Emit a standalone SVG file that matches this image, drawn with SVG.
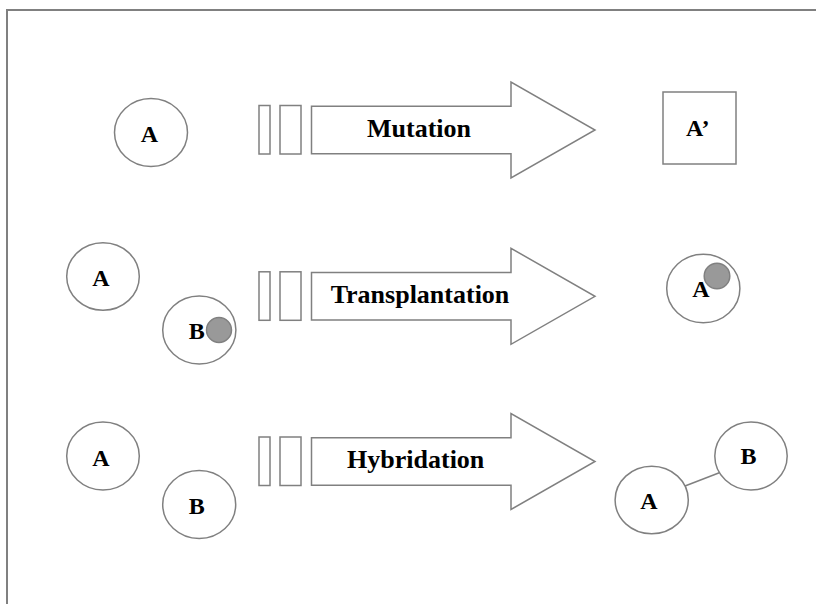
<svg xmlns="http://www.w3.org/2000/svg" width="816" height="604" viewBox="0 0 816 604">
<defs>
<style>
.s{fill:#fff;stroke:#808080;stroke-width:1.5}
.dot{fill:#999;stroke:#808080;stroke-width:1.5}
.t{font-family:"Liberation Serif","Times New Roman",serif;font-weight:bold;fill:#000}
.lt{font-size:24px;text-anchor:middle}
.at{font-size:26px;text-anchor:middle}
.ln{stroke:#808080;stroke-width:1.5;fill:none}
</style>
<g id="arrowShape">
<rect class="s" x="259" y="-24.5" width="11" height="48.5"/>
<rect class="s" x="280" y="-24.5" width="21" height="48.5"/>
<path class="s" d="M311.5,-23.7 H511 V-48 L595,0 L511,48 V23.7 H311.5 Z"/>
</g>
</defs>
<rect width="816" height="604" fill="#fff"/>
<path d="M7,604 V10 H816" fill="none" stroke="#808080" stroke-width="2"/>

<g id="row1">
<g id="r1-A"><ellipse class="s" cx="151" cy="132.5" rx="36.5" ry="34"/><text class="t lt" x="149.5" y="141.5">A</text></g>
<g id="r1-arrow"><use href="#arrowShape" y="130"/><text class="t at" x="419" y="137">Mutation</text></g>
<g id="r1-Aprime"><rect class="s" x="663" y="92" width="73" height="72"/><text class="t" style="font-size:24px" x="686" y="136">A’</text></g>
</g>

<g id="row2">
<g id="r2-A"><ellipse class="s" cx="103" cy="276.5" rx="36.3" ry="33.7"/><text class="t lt" x="101" y="285.5">A</text></g>
<g id="r2-B"><ellipse class="s" cx="199.3" cy="330" rx="36.6" ry="34"/><text class="t lt" x="196.7" y="339.3">B</text><circle class="dot" cx="219" cy="330" r="12.5"/></g>
<g id="r2-arrow"><use href="#arrowShape" y="296.3"/><text class="t at" x="420" y="303.3">Transplantation</text></g>
<g id="r2-result"><ellipse class="s" cx="703.3" cy="288.5" rx="36.6" ry="34.2"/><text class="t lt" x="701" y="297.3">A</text><circle class="dot" cx="717" cy="276" r="12.8"/></g>
</g>

<g id="connectors">
<line class="ln" x1="685" y1="486" x2="719.3" y2="472.7"/>
</g>

<g id="row3">
<g id="r3-A"><ellipse class="s" cx="103" cy="456" rx="36.3" ry="34"/><text class="t lt" x="101" y="466">A</text></g>
<g id="r3-B"><ellipse class="s" cx="199.2" cy="504.5" rx="36.5" ry="34"/><text class="t lt" x="196.7" y="514">B</text></g>
<g id="r3-arrow"><use href="#arrowShape" y="461.5"/><text class="t at" x="415.7" y="468.3">Hybridation</text></g>
<g id="r3-A2"><ellipse class="s" cx="651.7" cy="500" rx="36.6" ry="33.7"/><text class="t lt" x="649" y="509">A</text></g>
<g id="r3-B2"><ellipse class="s" cx="751" cy="456" rx="36.2" ry="34"/><text class="t lt" x="748.5" y="464.3">B</text></g>
</g>
</svg>
